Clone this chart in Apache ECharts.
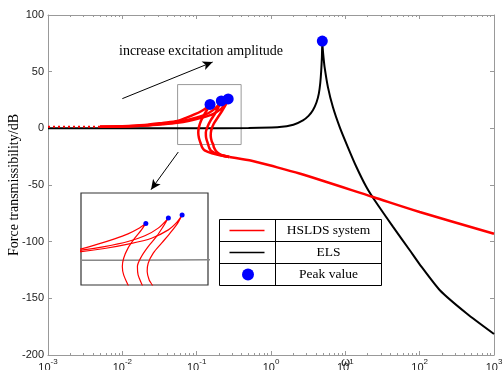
<!DOCTYPE html>
<html>
<head>
<meta charset="utf-8">
<script src="https://cdn.jsdelivr.net/npm/echarts@6/dist/echarts.min.js"></script>
<style>
  html, body { margin: 0; padding: 0; background: #fff; }
  #chart { width: 503px; height: 370px; }
</style>
</head>
<body>
<div id="chart"></div>
<script>
// ELS (linear system) transmissibility
const elsFreq = [0.001, 0.01, 0.1, 0.5, 1.3, 2.0, 2.69, 3.2, 3.66, 4.1, 4.4, 4.6, 4.74, 4.84, 4.9, 4.97, 5.1, 5.26, 5.83, 6.8, 8.4, 10.8, 14.1, 19.2, 24.8, 43.9, 73.6, 100, 187, 429, 1000];
const elsDb   = [0, 0, 0, 0.3, 1.1, 3.2, 7, 11, 15.9, 23, 30.6, 40, 51, 63, 77, 70, 62, 54, 36.4, 18.8, 1.1, -16.5, -34.1, -51.8, -63.5, -87, -107.6, -120, -142.9, -163.4, -181.5];

// HSLDS curves, points ordered along the curve (upper branch -> peak -> return -> lower branch)
const hsldsFreq1 = [0.005, 0.01, 0.02, 0.035, 0.0554, 0.0719, 0.0932, 0.1148, 0.1342, 0.1513, 0.1414, 0.1274, 0.1148, 0.1073, 0.1051, 0.1073, 0.1148, 0.119, 0.128, 0.16, 0.275];
const hsldsDb1   = [1.5, 1.9, 3.0, 4.8, 6.5, 9.2, 12.25, 15.1, 18.0, 21.1, 17.4, 12.6, 6.9, 1.1, -3.7, -8.5, -14.3, -17, -19.5, -22, -25.3];

const hsldsFreq2 = [0.005, 0.01, 0.02, 0.035, 0.0554, 0.0797, 0.1148, 0.149, 0.1834, 0.2145, 0.1983, 0.1787, 0.1569, 0.1414, 0.1328, 0.1342, 0.1429, 0.147, 0.156, 0.19, 0.275];
const hsldsDb2   = [1.5, 1.8, 2.6, 4.0, 5.7, 7.8, 10.7, 14.0, 18.4, 24.2, 19.4, 13.6, 7.8, 2.1, -3.7, -8.5, -14.3, -17, -19.8, -22.8, -25.3];

const hsldsFreq3 = [0.005, 0.01, 0.02, 0.035, 0.0554, 0.0797, 0.1148, 0.1653, 0.2145, 0.2443, 0.2655, 0.2481, 0.2202, 0.1932, 0.1697, 0.1569, 0.1545, 0.1594, 0.167, 0.171, 0.182, 0.21, 0.275];
const hsldsDb3   = [1.5, 1.7, 2.4, 3.6, 4.9, 6.7, 9.2, 12.6, 17.4, 21.7, 25.9, 21.3, 15.5, 9.75, 4.0, -1.8, -6.6, -11.4, -14.3, -17, -20, -23.3, -25.3];

// common lower branch of the HSLDS system
const tailFreq = [0.275, 0.513, 0.7, 0.955, 2.42, 23.6, 100, 1000];
const tailDb   = [-25.3, -28.2, -30.3, -32.6, -39.9, -60.6, -73.8, -93];

// low frequency part drawn dotted
const dotFreq = [0.001, 0.005];
const dotDb   = [1.5, 1.5];

// peak values
const peakFreq = [0.1513, 0.2145, 0.2655, 4.9];
const peakDb   = [21.1, 24.2, 25.9, 77];

// zoom window shown in the inset
const zoomFreq = [0.0554, 0.3965];
const zoomDb   = [-14.3, 38.6];

// arrows [start, end]
const arrowUp   = [[0.01, 26.2], [0.164, 58.5]];
const arrowDown = [[0.0566, -20.9], [0.0243, -54.1]];

const xTickExps = [-3, -2, -1, 0, 1, 2, 3];
const legendNames = ['HSLDS system', 'ELS', 'Peak value'];

const zip = (a, b) => a.map((v, i) => [v, b[i]]);

const chart = echarts.init(document.getElementById('chart'));

const axisGray = '#999';
const serif = '"Liberation Serif", "Times New Roman", serif';
const sans = '"Liberation Sans", Arial, sans-serif';

const xAxisBase = {
  type: 'log',
  logBase: 10,
  min: Math.pow(10, xTickExps[0]),
  max: Math.pow(10, xTickExps[xTickExps.length - 1]),
  gridIndex: 0,
  axisLine: { onZero: false, lineStyle: { color: axisGray, width: 1 } },
  axisTick: { inside: true, length: 4, lineStyle: { color: axisGray } },
  minorTick: { show: true, splitNumber: 9, length: 2, lineStyle: { color: axisGray } },
  splitLine: { show: false }
};

const yAxisBase = {
  type: 'value',
  min: -200,
  max: 100,
  interval: 50,
  gridIndex: 0,
  axisLine: { show: true, onZero: false, lineStyle: { color: axisGray, width: 1 } },
  axisTick: { show: true, inside: true, length: 4, lineStyle: { color: axisGray } },
  splitLine: { show: false }
};

// series for one grid (main or inset)
function buildSeries(ax, inset) {
  const redW = inset ? 1.2 : 2.5;
  const z = inset ? 20 : 3;
  const s = [];
  [[hsldsFreq1, hsldsDb1], [hsldsFreq2, hsldsDb2], [hsldsFreq3, hsldsDb3], [tailFreq, tailDb]].forEach(([f, d]) => {
    s.push({
      type: 'line', xAxisIndex: ax, yAxisIndex: ax,
      data: zip(f, d), showSymbol: false, smooth: 0.3,
      lineStyle: { color: '#ff0000', width: redW }, z: z
    });
  });
  s.push({
    type: 'line', xAxisIndex: ax, yAxisIndex: ax,
    data: zip(elsFreq, elsDb), showSymbol: false, smooth: 0.2,
    lineStyle: { color: inset ? '#888' : '#000', width: inset ? 1.5 : 2 }, z: z - 1
  });
  const peaks = {
    type: 'scatter', xAxisIndex: ax, yAxisIndex: ax,
    data: zip(peakFreq, peakDb), symbol: 'circle', symbolSize: inset ? 5 : 11,
    itemStyle: { color: '#0000ff', opacity: 1 }, z: z + 2
  };
  if (!inset) {
    s.unshift({
      type: 'line', xAxisIndex: 0, yAxisIndex: 0,
      data: zip(dotFreq, dotDb), showSymbol: false,
      lineStyle: { color: '#ff0000', width: 2, type: [2, 3] }, z: 3
    });
    peaks.markArea = {
      silent: true,
      itemStyle: { color: 'rgba(0,0,0,0)', borderColor: '#999', borderWidth: 1 },
      data: [[{ coord: [zoomFreq[0], zoomDb[1]] }, { coord: [zoomFreq[1], zoomDb[0]] }]]
    };
    peaks.markLine = {
      silent: true,
      symbol: ['none', 'arrow'],
      symbolSize: [7, 10],
      label: { show: false },
      lineStyle: { color: '#000', width: 1, type: 'solid' },
      data: [
        [{ coord: arrowUp[0] }, { coord: arrowUp[1] }],
        [{ coord: arrowDown[0] }, { coord: arrowDown[1] }]
      ]
    };
  }
  s.push(peaks);
  return s;
}

const option = {
  animation: false,
  backgroundColor: '#fff',
  grid: [
    { left: 48, right: 9, top: 15, bottom: 15, outerBoundsMode: 'none', containLabel: false },
    { left: 81, top: 193, width: 127, height: 92, show: true, backgroundColor: '#fff', borderColor: '#333', borderWidth: 1.2, outerBoundsMode: 'none', containLabel: false }
  ],
  xAxis: [
    Object.assign({}, xAxisBase, {
      position: 'bottom',
      axisLabel: {
        color: '#222', fontFamily: sans, margin: 3,
        formatter: v => '{b|10}{s|' + Math.round(Math.log10(v)) + '}',
        rich: {
          b: { fontSize: 11, fontFamily: sans, color: '#222', lineHeight: 15, verticalAlign: 'bottom' },
          s: { fontSize: 8, fontFamily: sans, color: '#222', lineHeight: 15, verticalAlign: 'top' }
        }
      }
    }),
    Object.assign({}, xAxisBase, { position: 'top', axisLabel: { show: false } }),
    { type: 'log', gridIndex: 1, min: zoomFreq[0], max: zoomFreq[1], show: false }
  ],
  yAxis: [
    Object.assign({}, yAxisBase, {
      position: 'left',
      axisLabel: { color: '#222', fontFamily: sans, fontSize: 11, margin: 4 },
      name: 'Force transmissibility/dB',
      nameLocation: 'middle',
      nameGap: 27,
      nameMoveOverlap: false,
      nameTextStyle: { fontFamily: serif, fontSize: 14, color: '#000' }
    }),
    Object.assign({}, yAxisBase, { position: 'right', axisLabel: { show: false } }),
    { type: 'value', gridIndex: 1, min: zoomDb[0], max: zoomDb[1], show: false }
  ],
  series: buildSeries(0, false).concat(buildSeries(2, true)),
  graphic: [
    {
      type: 'text', left: 119, top: 44, z: 10,
      style: { text: 'increase excitation amplitude', font: '14px ' + serif, fill: '#000' }
    },
    {
      type: 'text', left: 341, top: 355, z: 10,
      style: { text: 'ω', font: '14px ' + serif, fill: '#222' }
    },
    {
      type: 'group', left: 217, top: 217, z: 10,
      children: [
        { type: 'rect', shape: { x: 0, y: 0, width: 162, height: 66 }, style: { fill: '#fff', stroke: '#000', lineWidth: 1 } },
        { type: 'line', shape: { x1: 56, y1: 0, x2: 56, y2: 66 }, style: { stroke: '#000', lineWidth: 1 } },
        { type: 'line', shape: { x1: 0, y1: 22, x2: 162, y2: 22 }, style: { stroke: '#000', lineWidth: 1 } },
        { type: 'line', shape: { x1: 0, y1: 44, x2: 162, y2: 44 }, style: { stroke: '#000', lineWidth: 1 } },
        { type: 'line', shape: { x1: 10, y1: 11, x2: 45, y2: 11 }, style: { stroke: '#ff0000', lineWidth: 1.5 } },
        { type: 'line', shape: { x1: 10, y1: 33, x2: 45, y2: 33 }, style: { stroke: '#000', lineWidth: 1.5 } },
        { type: 'circle', shape: { cx: 28.5, cy: 55, r: 6 }, style: { fill: '#0000ff' } },
        { type: 'text', x: 109, y: 11, style: { text: legendNames[0], font: '13.5px ' + serif, fill: '#000', align: 'center', verticalAlign: 'middle' } },
        { type: 'text', x: 109, y: 33, style: { text: legendNames[1], font: '13.5px ' + serif, fill: '#000', align: 'center', verticalAlign: 'middle' } },
        { type: 'text', x: 109, y: 55, style: { text: legendNames[2], font: '13.5px ' + serif, fill: '#000', align: 'center', verticalAlign: 'middle' } }
      ]
    }
  ]
};

chart.setOption(option);
</script>
</body>
</html>
